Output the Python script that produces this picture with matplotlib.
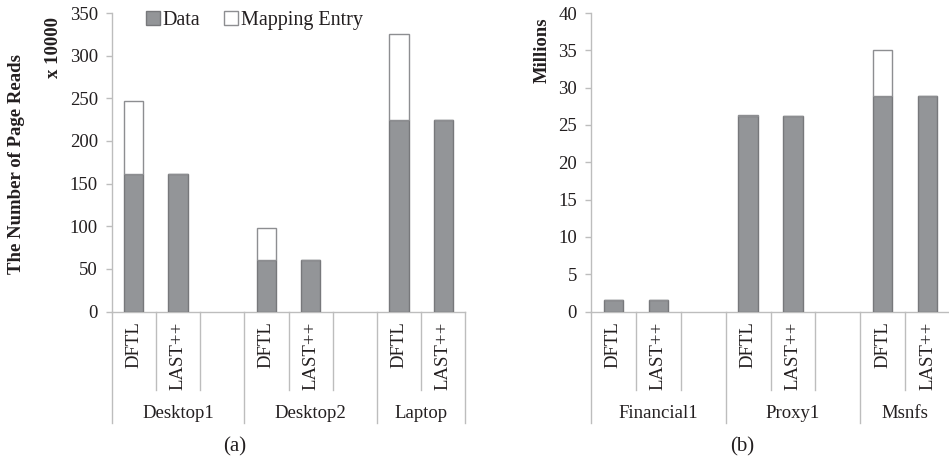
import matplotlib
matplotlib.use('Agg')
import matplotlib.pyplot as plt
from matplotlib.patches import Patch
import numpy as np

plt.rcParams['font.family'] = ['Liberation Serif', 'DejaVu Serif']

# Page reads per trace, split into data pages and mapping-entry pages
schemes = ['DFTL', 'LAST++']
left_groups = ['Desktop1', 'Desktop2', 'Laptop']
left_data = [161, 161, 60.5, 60.5, 224, 224]      # x 10000
left_map = [86, 0, 37, 0, 101, 0]
left_ticks = [0, 50, 100, 150, 200, 250, 300, 350]

right_groups = ['Financial1', 'Proxy1', 'Msnfs']
right_data = [1.5, 1.5, 26.2, 26.2, 28.9, 28.9]   # millions
right_map = [0, 0, 0.1, 0, 6.2, 0]
right_ticks = [0, 5, 10, 15, 20, 25, 30, 35, 40]

DATA_C = '#939598'
DATA_EDGE = '#77787b'
MAP_EDGE = '#8d8e91'
AXIS_C = '#bdbdbd'
TXT = '#231f20'
FS = 13.5

W, H = 949, 461
fig = plt.figure(figsize=(W / 100, H / 100), dpi=100)

bottom_px, top_px = 311.5, 13
ax_h = (bottom_px - top_px) / H
ax_b = (H - bottom_px) / H
axL = fig.add_axes([111.7 / W, ax_b, 353.6 / W, ax_h])
axR = fig.add_axes([591 / W, ax_b, 359 / W, ax_h])

n_slots = 8
minor_len = (390 - bottom_px) / (bottom_px - top_px)
group_len = (423 - bottom_px) / (bottom_px - top_px)


def draw_panel(ax, groups, data, mapping, ticks):
    xs = [3 * g + s for g in range(len(groups)) for s in range(len(schemes))]
    ax.bar(xs, data, width=0.43, color=DATA_C, edgecolor=DATA_EDGE,
           linewidth=1.0, label='Data', zorder=3)
    ax.bar(xs, mapping, bottom=data, width=0.43, color='white',
           edgecolor=MAP_EDGE, linewidth=1.0, label='Mapping Entry', zorder=3)

    ax.set_xlim(-0.5, n_slots - 0.5)
    ax.set_ylim(ticks[0], ticks[-1])
    ax.set_yticks(ticks)
    ax.set_xticks([])
    for side in ['top', 'right']:
        ax.spines[side].set_visible(False)
    for side in ['left', 'bottom']:
        ax.spines[side].set_color(AXIS_C)
        ax.spines[side].set_linewidth(1.0)
    ax.tick_params(axis='y', direction='out', length=4, width=1.0,
                   color=AXIS_C, labelsize=FS, labelcolor=TXT, pad=6)
    ax.patch.set_alpha(0)

    # category separators below the axis
    trans = ax.get_xaxis_transform()
    for b in range(n_slots + 1):
        length = group_len if b % 3 == 0 or b == n_slots else minor_len
        ax.plot([b - 0.5, b - 0.5], [0, -length], transform=trans,
                color=AXIS_C, lw=1.0, clip_on=False)

    # scheme labels and group labels
    for x, (g, s) in zip(xs, [(g, s) for g in range(len(groups))
                              for s in range(len(schemes))]):
        ax.text(x, -10 / (bottom_px - top_px), schemes[s], transform=trans,
                rotation=90, ha='center', va='top', fontsize=FS, color=TXT)
    for g, name in enumerate(groups):
        lo = 3 * g - 0.5
        hi = min(3 * g + 2.5, n_slots - 0.5)
        ax.text((lo + hi) / 2, -(413 - bottom_px) / (bottom_px - top_px), name,
                transform=trans, ha='center', va='center', fontsize=FS, color=TXT)


draw_panel(axL, left_groups, left_data, left_map, left_ticks)
draw_panel(axR, right_groups, right_data, right_map, right_ticks)

handles = [Patch(facecolor=DATA_C, edgecolor=DATA_EDGE, label='Data'),
           Patch(facecolor='white', edgecolor=MAP_EDGE, label='Mapping Entry')]
fig.legend(handles=handles, loc='upper left', bbox_to_anchor=(146 / W, 1 - 11 / H),
           ncol=2, frameon=False, fontsize=14.5, handlelength=0.7,
           handleheight=0.7, handletextpad=0.12, columnspacing=1.2,
           borderpad=0, borderaxespad=0, labelcolor=TXT)

fig.text(17 / W, 1 - 164 / H, 'The Number of Page Reads', rotation=90,
         ha='center', va='center', fontsize=13.5, fontweight='bold', color=TXT)
fig.text(53 / W, 1 - 48 / H, 'x 10000', rotation=90,
         ha='center', va='center', fontsize=13.5, fontweight='bold', color=TXT)
fig.text(542 / W, 1 - 50 / H, 'Millions', rotation=90,
         ha='center', va='center', fontsize=13.5, fontweight='bold', color=TXT)

fig.text(235 / W, 1 - 447 / H, '(a)', ha='center', va='center',
         fontsize=15, color=TXT)
fig.text(742 / W, 1 - 447 / H, '(b)', ha='center', va='center',
         fontsize=15, color=TXT)

fig.savefig('out.png', dpi=100, facecolor='white')
